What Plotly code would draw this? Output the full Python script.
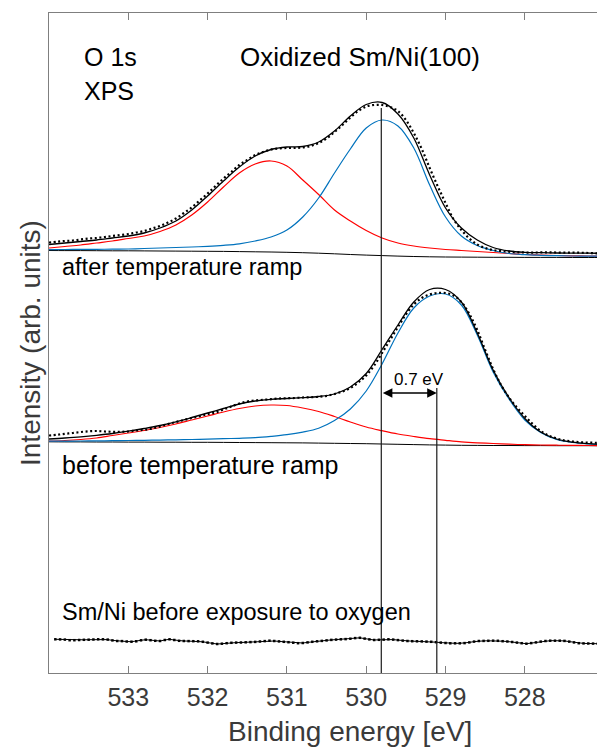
import numpy as np
import plotly.graph_objects as go

# ---------------------------------------------------------------- data
# Binding-energy grids (eV)
be_fit = np.round(np.arange(534.0, 526.95, -0.2), 2)    # fitted curves, 36 points
be_dat = np.round(np.arange(534.0, 526.95, -0.1), 2)    # measured points, 71 points
be_ref = np.round(np.arange(533.92, 527.05, -0.06), 2)  # clean Sm/Ni reference, 115 points

# Vertical offsets used to stack the spectra (arb. units)
offset_after = 415.0
offset_before = 227.0
offset_clean = 30.0

# --- after temperature ramp
after_background = [7.5, 7.4, 7.4, 7.3, 7.2, 7.2, 7.1, 7.0, 6.9, 6.8, 6.7, 6.6, 6.4, 6.2, 6.0, 5.7,
                    5.3, 4.8, 4.2, 3.5, 2.9, 2.4, 1.9, 1.5, 1.2, 1.0, 0.9, 0.8, 0.7, 0.7, 0.6, 0.6,
                    0.6, 0.5, 0.5, 0.5]
after_high_be = [10, 11.5, 13, 15, 17, 19.5, 22, 26.5, 33, 43, 56, 71, 85, 94, 97, 92, 78, 63.5,
                 48, 37, 27.5, 20, 15, 12, 10, 8.5, 7.5, 6.5, 5.5, 4.5, 3.5, 3, 2.5, 2.2, 2, 1.8]
after_low_be = [8.4, 8.5, 8.6, 8.7, 8.8, 9, 9.5, 10, 10.5, 11, 11.7, 12.7, 14.2, 17, 21, 28, 41,
                60, 85, 109, 130, 138, 132, 110, 73, 41, 22, 12.5, 7.5, 4.5, 3.3, 2.7, 2.3, 2,
                1.9, 1.8]
after_fit = [13.5, 15, 16.5, 18, 20, 22, 25, 30, 37, 48, 62, 77, 91, 102, 108.5, 111, 111.5, 116,
             127, 142, 153.5, 155.5, 144, 120, 83, 50, 30, 18, 10.5, 7, 5.7, 5.3, 5, 4.9, 4.8, 4.7]
after_data = [15.5, 16.2, 17, 17.5, 18.5, 19.5, 20, 21, 22, 23, 24, 25.5, 27, 29.5, 32, 35.5,
              39.5, 45, 50.5, 57.5, 64.5, 72, 79.5, 86, 93, 98, 103, 106, 108.5, 109.5, 110, 110,
              110.5, 112, 115, 119.5, 126, 133, 140.5, 147, 151.5, 153, 153, 151, 147, 138, 125,
              109, 90, 72, 55, 39, 28, 19.5, 13.5, 10, 8, 7, 6.3, 5.8, 5.5, 5.4, 5.6, 5.7, 5.5,
              5.3, 5.4, 5.3, 5, 4.7, 4.7]

# --- before temperature ramp
before_background = [4.2, 4.1, 4.1, 4.0, 4.0, 3.9, 3.9, 3.8, 3.8, 3.7, 3.7, 3.6, 3.5, 3.4, 3.3,
                     3.2, 3.1, 2.9, 2.7, 2.5, 2.3, 2.0, 1.7, 1.4, 1.1, 0.9, 0.7, 0.6, 0.5, 0.5,
                     0.4, 0.4, 0.3, 0.3, 0.3, 0.3]
before_high_be = [5, 5.5, 6.5, 8, 10.5, 13, 15.5, 18.5, 22, 26, 30, 34, 37.5, 40, 41, 40.5, 38,
                  34.5, 29.5, 24, 19, 15.3, 12, 9.5, 7.3, 5.7, 4.2, 3.2, 2.5, 1.8, 1.3, 1, 0.8,
                  0.6, 0.5, 0.4]
before_low_be = [4.8, 4.9, 5, 5.1, 5.3, 5.5, 5.7, 5.9, 6.2, 6.5, 6.9, 7.3, 7.7, 8.3, 9.6, 11.3,
                 13.9, 17.8, 25.5, 37, 55, 82, 113, 138, 150, 152, 141, 111, 74, 47, 26, 13.5,
                 6.5, 3.5, 2, 1.2]
before_fit = [7, 8, 9.2, 10.7, 12.5, 14.8, 17.5, 20.5, 24.2, 28.5, 33, 37.5, 42, 45, 46.7, 47.5,
              48.4, 49.5, 52, 59, 72.5, 96.5, 121, 144, 156.5, 156.5, 144, 113, 76, 48.5, 27.5,
              14, 7, 3.8, 2.3, 1.5]
before_data = [10.5, 11.2, 12.2, 13, 14, 14.7, 15, 14.5, 14.2, 14.2, 14.5, 15.5, 16.2, 17.5,
               19.5, 22, 24, 26, 28, 29.7, 32, 33.5, 36.5, 39.5, 42.5, 44.5, 45.5, 46.2, 46.8,
               47.5, 47.8, 48, 48.5, 48.7, 49.2, 50.2, 52, 54.5, 58, 63.5, 70.5, 80.5, 93, 106,
               119, 131.5, 141.5, 148, 151.5, 153, 153, 150.5, 144, 132, 116, 96, 77, 61, 48.5,
               38.5, 30, 22, 15, 10.5, 7.5, 5.5, 4.5, 3.8, 3.4, 3.2, 3]

# --- clean Sm/Ni before oxygen exposure
clean_data = [3.7, 3.6, 3.4, 2.8, 2.8, 3.0, 3.2, 3.3, 3.5, 3.7,
              3.7, 3.4, 2.6, 2.0, 1.9, 1.5, 1.3, 1.7, 2.7, 3.3,
              2.8, 2.2, 2.0, 3.0, 3.7, 3.0, 2.2, 2.0, 1.9, 1.8,
              1.7, 1.2, 0.4, -0.4, -1.0, -0.7, -0.2, 0.2, 0.4, 0.5,
              0.7, 0.9, 1.1, 1.5, 1.9, 2.3, 2.0, 1.6, 1.2, 0.8,
              0.3, -0.2, 0.0, 0.6, 1.2, 1.7, 2.1, 2.6, 3.1, 3.4,
              3.7, 3.9, 4.3, 4.9, 5.2, 4.4, 3.6, 3.0, 3.2, 3.4,
              3.7, 3.4, 2.9, 2.4, 2.0, 1.8, 1.7, 1.6, 1.4, 1.2,
              0.8, 0.4, 0.0, -0.3, -0.3, -0.3, -0.1, 0.6, 1.4, 2.0,
              2.1, 2.2, 2.3, 2.2, 1.8, 1.5, 1.0, 0.4, -0.2, -0.7,
              -0.1, 0.6, 1.4, 2.0, 2.3, 2.3, 2.3, 2.1, 1.4, 0.6,
              -0.2, -0.4, -0.5, -0.6, -0.7]

# Peak position of the low-BE component and its shift during the ramp (eV)
peak_after = 529.81
peak_shift = 0.7
peak_before = peak_after - peak_shift

# ---------------------------------------------------------------- styling
FONT = "Liberation Sans, Arial, sans-serif"
RED = "#ff0000"
BLUE = "#0072bd"
AXIS_GREY = "#7f7f7f"
TEXT_GREY = "#3a3a3a"

fig = go.Figure()


def add_spectrum(bg, high, low, fit, data, offset):
    off = lambda v: np.asarray(v, dtype=float) + offset
    fig.add_trace(go.Scatter(x=be_fit, y=off(bg), mode="lines",
                             line=dict(color="black", width=1, shape="spline")))
    fig.add_trace(go.Scatter(x=be_fit, y=off(high), mode="lines",
                             line=dict(color=RED, width=1.2, shape="spline")))
    fig.add_trace(go.Scatter(x=be_fit, y=off(low), mode="lines",
                             line=dict(color=BLUE, width=1.2, shape="spline")))
    fig.add_trace(go.Scatter(x=be_fit, y=off(fit), mode="lines",
                             line=dict(color="black", width=1.3, shape="spline")))
    fig.add_trace(go.Scatter(x=be_dat, y=off(data), mode="lines",
                             line=dict(color="black", width=2.2, dash="2px,2.6px",
                                       shape="spline")))


add_spectrum(after_background, after_high_be, after_low_be, after_fit, after_data, offset_after)
add_spectrum(before_background, before_high_be, before_low_be, before_fit, before_data,
             offset_before)

fig.add_trace(go.Scatter(x=be_ref, y=np.asarray(clean_data) + offset_clean, mode="lines+markers",
                         line=dict(color="black", width=1),
                         marker=dict(color="black", size=2.5, symbol="square")))

# vertical markers at the two peak positions
fig.add_shape(type="line", xref="x", yref="y", x0=peak_after, x1=peak_after, y0=0, y1=565,
              line=dict(color="#1a1a1a", width=1.2))
fig.add_shape(type="line", xref="x", yref="y", x0=peak_before, x1=peak_before, y0=0, y1=285,
              line=dict(color="#1a1a1a", width=1.2))

# double arrow showing the shift
fig.add_annotation(x=peak_before, y=280, ax=peak_after, ay=280, xref="x", yref="y",
                   axref="x", ayref="y", text="", showarrow=True, arrowside="end+start",
                   arrowhead=2, arrowsize=1.2, arrowwidth=1.6, arrowcolor="black",
                   standoff=0, startstandoff=0)
fig.add_annotation(x=529.33, y=294, xref="x", yref="y", text=f"{peak_shift:.1f} eV",
                   showarrow=False, font=dict(family=FONT, size=17, color="black"))

labels = [
    ("O 1s", 0.0602, 0.9338, 25),
    ("XPS", 0.0602, 0.8815, 25),
    ("Oxidized Sm/Ni(100)", 0.345, 0.9338, 26),
    ("after temperature ramp", 0.0201, 0.615, 23.5),
    ("before temperature ramp", 0.0201, 0.3147, 25),
    ("Sm/Ni before exposure to oxygen", 0.0201, 0.0924, 23.5),
]
for txt, px, py, size in labels:
    fig.add_annotation(x=px, y=py, xref="paper", yref="paper", text=txt, showarrow=False,
                       xanchor="left", yanchor="middle",
                       font=dict(family=FONT, size=size, color="black"))

# axis titles
fig.add_annotation(x=0.549, y=-0.0879, xref="paper", yref="paper", text="Binding energy [eV]",
                   showarrow=False, xanchor="center", yanchor="middle",
                   font=dict(family=FONT, size=28, color=TEXT_GREY))
fig.add_annotation(x=-0.0347, y=0.5, xref="paper", yref="paper", text="Intensity (arb. units)",
                   showarrow=False, textangle=-90, xanchor="center", yanchor="middle",
                   font=dict(family=FONT, size=28, color=TEXT_GREY))

fig.update_layout(
    width=597, height=747,
    margin=dict(l=49, r=0, t=13, b=74),
    paper_bgcolor="white", plot_bgcolor="white",
    showlegend=False,
    font=dict(family=FONT),
    xaxis=dict(range=[534.0, 527.09], tickvals=[533, 532, 531, 530, 529, 528],
               ticks="inside", ticklen=7, tickcolor=AXIS_GREY, tickwidth=1,
               ticklabelstandoff=2,
               showline=True, linecolor=AXIS_GREY, linewidth=1.2, mirror="ticks",
               showgrid=False, zeroline=False,
               tickfont=dict(family=FONT, size=25, color=TEXT_GREY)),
    yaxis=dict(range=[0, 660], showticklabels=False, ticks="", showgrid=False,
               zeroline=False, showline=True, linecolor=AXIS_GREY, linewidth=1.2),
)

fig.write_html("out.html")
